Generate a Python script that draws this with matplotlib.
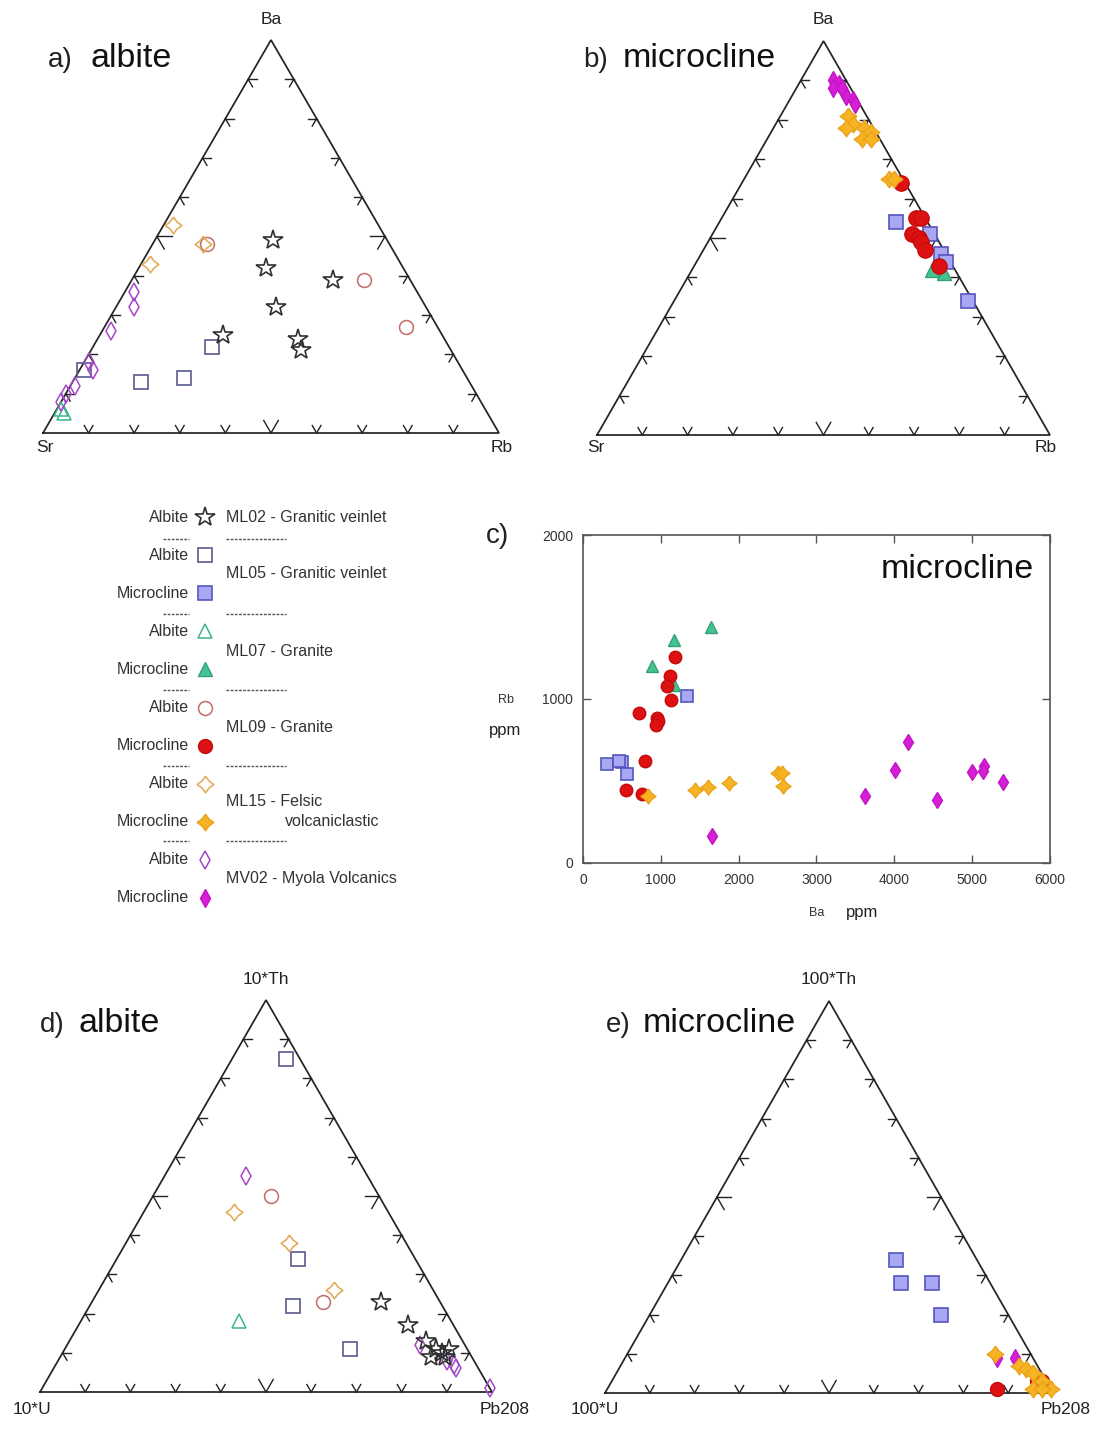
import numpy as np
import matplotlib
matplotlib.use("Agg")
import matplotlib.pyplot as plt

plt.rcParams['font.family'] = ['Liberation Sans', 'DejaVu Sans']

W, H = 1104, 1430
SQ3 = np.sqrt(3) / 2
LINE = '#222222'

# ---------------- data ----------------
# a) albite, Ba / Sr / Rb (%)
a_ml02_ba = [49, 42, 39, 32, 25, 24, 21]
a_ml02_sr = [25, 30, 17, 33, 48, 32, 33]
a_ml02_rb = [26, 28, 44, 35, 27, 44, 46]
a_ml05_ba = [22, 13, 14, 16]
a_ml05_sr = [52, 72, 62, 83]
a_ml05_rb = [26, 15, 24, 1]
a_ml07_ba = [5, 6]
a_ml07_sr = [93, 93]
a_ml07_rb = [2, 1]
a_ml09_ba = [48, 39, 27]
a_ml09_sr = [40, 10, 7]
a_ml09_rb = [12, 51, 66]
a_ml15_ba = [53, 48, 43]
a_ml15_sr = [45, 41, 55]
a_ml15_rb = [2, 11, 2]
a_mv02_ba = [36, 32, 26, 18, 16, 12, 10, 8]
a_mv02_sr = [62, 64, 72, 81, 81, 87, 90, 92]
a_mv02_rb = [2, 4, 2, 1, 3, 1, 0, 0]

# b) microcline, Ba / Sr / Rb (%)
b_ml05_ba = [54, 51, 46, 44, 34]
b_ml05_sr = [7, 1, 1, 1, 1]
b_ml05_rb = [39, 48, 53, 55, 65]
b_ml07_ba = [41, 42]
b_ml07_sr = [3, 5]
b_ml07_rb = [56, 53]
b_ml09_ba = [64, 55, 55, 51, 50, 49, 47, 43]
b_ml09_sr = [1, 2, 1, 5, 4, 4, 4, 3]
b_ml09_rb = [35, 43, 44, 44, 46, 47, 49, 54]
b_ml15_ba = [81, 79, 78, 78, 77, 75, 75, 65, 65]
b_ml15_sr = [4, 4, 6, 2, 1, 4, 2, 3, 2]
b_ml15_rb = [15, 17, 16, 20, 22, 21, 23, 32, 33]
b_mv02_ba = [90, 89, 88, 87, 86, 85, 84, 88]
b_mv02_sr = [3, 2, 4, 2, 2, 1, 1, 2]
b_mv02_rb = [7, 9, 8, 11, 12, 14, 15, 10]

# c) microcline, Ba vs Rb (ppm)
c_ml05_ba = [1337, 304, 506, 466, 567]
c_ml05_rb = [1021, 605, 615, 625, 544]
c_ml07_ba = [1646, 1175, 881, 1175]
c_ml07_rb = [1442, 1360, 1204, 1086]
c_ml09_ba = [1180, 1114, 1073, 1134, 724, 952, 962, 937, 800, 557, 760]
c_ml09_rb = [1255, 1141, 1082, 993, 914, 883, 863, 843, 625, 443, 422]
c_ml15_ba = [835, 1433, 1610, 1878, 2506, 2557, 2572]
c_ml15_rb = [410, 447, 461, 489, 548, 548, 467]
c_mv02_ba = [1656, 3620, 4005, 4177, 4542, 5003, 5149, 5139, 5392]
c_mv02_rb = [162, 410, 569, 737, 386, 554, 589, 564, 493]

# d) albite, 10*Th / 10*U / Pb208 (%)
d_ml02_th = [23, 17, 13, 11, 10, 9, 9, 11]
d_ml02_u = [13, 10, 8, 7, 6, 9, 6, 4]
d_ml02_pb = [64, 73, 79, 82, 84, 82, 85, 85]
d_ml05_th = [85, 34, 22, 11]
d_ml05_u = [3, 26, 33, 26]
d_ml05_pb = [12, 40, 45, 63]
d_ml07_th = [18]
d_ml07_u = [47]
d_ml07_pb = [35]
d_ml09_th = [50, 23]
d_ml09_u = [24, 26]
d_ml09_pb = [26, 51]
d_ml15_th = [46, 38, 26]
d_ml15_u = [34, 26, 22]
d_ml15_pb = [20, 36, 52]
d_mv02_th = [55, 12, 8, 7, 6, 1]
d_mv02_u = [27, 10, 6, 5, 5, 0]
d_mv02_pb = [18, 78, 86, 88, 89, 99]

# e) microcline, 100*Th / 100*U / Pb208 (%)
e_ml05_th = [34, 28, 28, 20]
e_ml05_u = [18, 20, 13, 15]
e_ml05_pb = [48, 52, 59, 65]
e_ml09_th = [1, 3, 3]
e_ml09_u = [12, 2, 1]
e_ml09_pb = [87, 95, 96]
e_ml15_th = [10, 7, 6, 5, 3, 1, 1, 1]
e_ml15_u = [8, 4, 3, 2, 1, 0, 4, 2]
e_ml15_pb = [82, 89, 91, 93, 96, 99, 95, 97]
e_mv02_th = [9, 9]
e_mv02_u = [8, 4]
e_mv02_pb = [83, 87]

leg_minerals = ['Albite', 'Albite', 'Microcline', 'Albite', 'Microcline', 'Albite',
                'Microcline', 'Albite', 'Microcline', 'Albite', 'Microcline']
leg_keys = ['ml02_alb', 'ml05_alb', 'ml05_mic', 'ml07_alb', 'ml07_mic', 'ml09_alb',
            'ml09_mic', 'ml15_alb', 'ml15_mic', 'mv02_alb', 'mv02_mic']
leg_groups = ['ML02 - Granitic veinlet', 'ML05 - Granitic veinlet', 'ML07 - Granite',
              'ML09 - Granite', 'ML15 - Felsic', 'MV02 - Myola Volcanics']

# ---------------- styles ----------------
STAR4 = [(0, 1), (0.42, 0.42), (1, 0), (0.42, -0.42), (0, -1),
         (-0.42, -0.42), (-1, 0), (-0.42, 0.42), (0, 1)]

STY = {
    'ml02_alb': dict(marker='*', ms=14.5, mfc='none', mec='#303030', mew=1.2),
    'ml05_alb': dict(marker='s', ms=9.5, mfc='none', mec='#5a5a90', mew=1.2),
    'ml05_mic': dict(marker='s', ms=9.5, mfc='#a8a8f2', mec='#5555c0', mew=1.2),
    'ml07_alb': dict(marker='^', ms=10, mfc='none', mec='#3cb48c', mew=1.1),
    'ml07_mic': dict(marker='^', ms=10, mfc='#44c493', mec='#33a077', mew=1.0),
    'ml09_alb': dict(marker='o', ms=10, mfc='none', mec='#c46a6a', mew=1.1),
    'ml09_mic': dict(marker='o', ms=10, mfc='#dd1111', mec='#c40c0c', mew=1.0),
    'ml15_alb': dict(marker=STAR4, ms=12, mfc='none', mec='#e2ae5e', mew=1.2),
    'ml15_mic': dict(marker=STAR4, ms=12, mfc='#f6b323', mec='#eaa31a', mew=1.0),
    'mv02_alb': dict(marker='d', ms=9, mfc='none', mec='#a546c8', mew=1.1),
    'mv02_mic': dict(marker='d', ms=9, mfc='#d61ed6', mec='#c214c4', mew=1.0),
}


def px_box(left, top, right, bottom):
    return [left / W, 1 - bottom / H, (right - left) / W, (bottom - top) / H]


def tern_xy(top, left, right):
    top, left, right = (np.asarray(v, float) for v in (top, left, right))
    s = top + left + right
    return (right + top / 2) / s, top * SQ3 / s


def tern_axes(box, names, offsets):
    ax = fig.add_axes(px_box(*box))
    ax.set_xlim(0, 1)
    ax.set_ylim(0, SQ3)
    ax.axis('off')
    corners = np.array([[0.5, SQ3], [0.0, 0.0], [1.0, 0.0]])
    tri = corners[[1, 2, 0, 1]]
    ax.plot(tri[:, 0], tri[:, 1], color=LINE, lw=1.25, clip_on=False,
            solid_joinstyle='miter')
    # chevron ticks every 10 %
    for p, q, r in [(1, 2, 0), (2, 0, 1), (0, 1, 2)]:
        P, Q, R = corners[p], corners[q], corners[r]
        for i in range(1, 10):
            X = P + (Q - P) * i / 10
            L = 0.032 if i == 5 else 0.019
            for D in (R - P, R - Q):
                E = X + D / np.linalg.norm(D) * L
                ax.plot([X[0], E[0]], [X[1], E[1]], color=LINE, lw=1.0, clip_on=False)
    for (cx, cy), name, off in zip(corners, names, offsets):
        ax.annotate(name, (cx, cy), xytext=off, textcoords='offset pixels',
                    ha='center', va='center', fontsize=12.5, color='#222')
    return ax


def tern_plot(ax, top, left, right, key, scale=1.0):
    x, y = tern_xy(top, left, right)
    st = dict(STY[key])
    st['ms'] = st['ms'] * scale
    ax.plot(x, y, ls='none', clip_on=False, **st)


fig = plt.figure(figsize=(W / 100, H / 100), dpi=100)
canvas = fig.add_axes([0, 0, 1, 1])
canvas.set_xlim(0, W)
canvas.set_ylim(H, 0)
canvas.axis('off')

# titles
for x1, x2, yb, tag, word in [(48, 90, 67, 'a)', 'albite'), (583, 623, 67, 'b)', 'microcline'),
                              (40, 78, 1032, 'd)', 'albite'), (606, 643, 1032, 'e)', 'microcline')]:
    canvas.text(x1, yb, tag, fontsize=20, va='baseline', color='#222')
    canvas.text(x2, yb, word, fontsize=24.5, va='baseline', color='#111')

# a) albite
ax_a = tern_axes((43, 40, 499, 433), ['Ba', 'Sr', 'Rb'], [(0, 21), (2, -14), (3, -14)])
tern_plot(ax_a, a_ml05_ba, a_ml05_sr, a_ml05_rb, 'ml05_alb')
tern_plot(ax_a, a_ml07_ba, a_ml07_sr, a_ml07_rb, 'ml07_alb')
tern_plot(ax_a, a_ml09_ba, a_ml09_sr, a_ml09_rb, 'ml09_alb')
tern_plot(ax_a, a_ml15_ba, a_ml15_sr, a_ml15_rb, 'ml15_alb')
tern_plot(ax_a, a_mv02_ba, a_mv02_sr, a_mv02_rb, 'mv02_alb')
tern_plot(ax_a, a_ml02_ba, a_ml02_sr, a_ml02_rb, 'ml02_alb')

# b) microcline
ax_b = tern_axes((597, 41, 1050, 435), ['Ba', 'Sr', 'Rb'], [(0, 21), (-1, -13), (-4, -13)])
tern_plot(ax_b, b_ml05_ba, b_ml05_sr, b_ml05_rb, 'ml05_mic')
tern_plot(ax_b, b_ml07_ba, b_ml07_sr, b_ml07_rb, 'ml07_mic')
tern_plot(ax_b, b_ml09_ba, b_ml09_sr, b_ml09_rb, 'ml09_mic', 1.1)
tern_plot(ax_b, b_ml15_ba, b_ml15_sr, b_ml15_rb, 'ml15_mic')
tern_plot(ax_b, b_mv02_ba, b_mv02_sr, b_mv02_rb, 'mv02_mic')

# d) albite
ax_d = tern_axes((40, 1000, 492, 1392), ['10*Th', '10*U', 'Pb208'], [(0, 21), (-8, -18), (13, -18)])
tern_plot(ax_d, d_ml05_th, d_ml05_u, d_ml05_pb, 'ml05_alb')
tern_plot(ax_d, d_ml07_th, d_ml07_u, d_ml07_pb, 'ml07_alb')
tern_plot(ax_d, d_ml09_th, d_ml09_u, d_ml09_pb, 'ml09_alb')
tern_plot(ax_d, d_ml15_th, d_ml15_u, d_ml15_pb, 'ml15_alb')
tern_plot(ax_d, d_mv02_th, d_mv02_u, d_mv02_pb, 'mv02_alb')
tern_plot(ax_d, d_ml02_th, d_ml02_u, d_ml02_pb, 'ml02_alb')

# e) microcline
ax_e = tern_axes((605, 1001, 1053, 1393), ['100*Th', '100*U', 'Pb208'], [(0, 21), (-10, -17), (13, -17)])
tern_plot(ax_e, e_ml05_th, e_ml05_u, e_ml05_pb, 'ml05_mic')
tern_plot(ax_e, e_ml09_th, e_ml09_u, e_ml09_pb, 'ml09_mic')
tern_plot(ax_e, e_mv02_th, e_mv02_u, e_mv02_pb, 'mv02_mic')
tern_plot(ax_e, e_ml15_th, e_ml15_u, e_ml15_pb, 'ml15_mic')

# c) scatter Ba vs Rb
ax_c = fig.add_axes(px_box(583, 535, 1050, 863))
for bx, ry, key in [(c_ml05_ba, c_ml05_rb, 'ml05_mic'), (c_ml07_ba, c_ml07_rb, 'ml07_mic'),
                    (c_ml09_ba, c_ml09_rb, 'ml09_mic'), (c_mv02_ba, c_mv02_rb, 'mv02_mic'),
                    (c_ml15_ba, c_ml15_rb, 'ml15_mic')]:
    st = dict(STY[key])
    st['ms'] *= 0.9
    ax_c.plot(bx, ry, ls='none', **st)
ax_c.set_xlim(0, 6000)
ax_c.set_ylim(0, 2000)
ax_c.set_xticks(range(0, 6001, 1000))
ax_c.set_yticks([0, 1000, 2000])
ax_c.tick_params(direction='in', top=True, right=True, length=6, width=1.0,
                 color='#555', labelcolor='#333', labelsize=10, pad=7)
for sp in ax_c.spines.values():
    sp.set_color('#555')
    sp.set_linewidth(1.2)
ax_c.text(0.965, 0.87, 'microcline', transform=ax_c.transAxes, ha='right',
          fontsize=24.5, color='#111')
canvas.text(486, 543, 'c)', fontsize=20, va='baseline', color='#222')
canvas.text(506, 700, 'Rb', fontsize=9, ha='center', va='center', color='#333')
canvas.text(505, 730, 'ppm', fontsize=12, ha='center', va='center', color='#222')
canvas.text(817, 913, 'Ba', fontsize=9, ha='center', va='center', color='#333')
canvas.text(862, 913, 'ppm', fontsize=12, ha='center', va='center', color='#222')

# legend
row_y = 517 + 38.1 * np.arange(len(leg_keys))
for yy, mineral, key in zip(row_y, leg_minerals, leg_keys):
    canvas.text(189, yy, mineral, fontsize=11.5, ha='right', va='center', color='#333')
    canvas.plot([205], [yy], ls='none', **STY[key])
for yy, label in zip([517, 574, 651, 727, 802, 878], leg_groups):
    canvas.text(226, yy, label, fontsize=11.5, ha='left', va='center', color='#333')
canvas.text(285, 822, 'volcaniclastic', fontsize=11.5, ha='left', va='center', color='#333')
for yy in [539, 614, 690, 766, 841]:
    canvas.plot([163, 189], [yy, yy], color='#555', lw=1.0, ls=(0, (2, 1)))
    canvas.plot([226, 286], [yy, yy], color='#555', lw=1.0, ls=(0, (2, 1)))

fig.savefig('out.png', dpi=100)
